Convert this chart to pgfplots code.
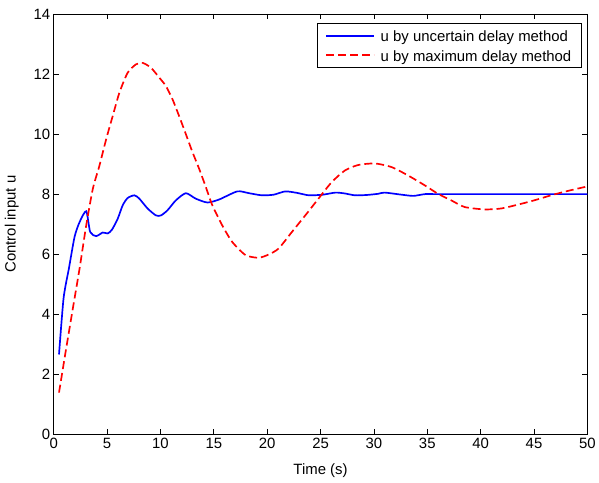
\documentclass[border=0pt]{standalone}
\usepackage{fontspec}
\setmainfont{Liberation Sans}
\usepackage{pgfplots}
\pgfplotsset{compat=1.18}
\newcommand{\ff}{\fontsize{15bp}{18bp}\selectfont}
\begin{document}
\begin{tikzpicture}
\begin{axis}[
  scale only axis,
  width=537bp, height=423bp,
  xmin=0, xmax=50, ymin=0, ymax=14,
  xtick={0,5,...,50}, ytick={0,2,...,14},
  tick align=inside,
  major tick length=5bp,
  axis line style={line width=0.8pt},
  every tick/.style={black, line width=0.6pt},
  /pgf/number format/assume math mode=true,
  tick label style={font=\ff},
  label style={font=\ff},
  xlabel={Time (s)},
  ylabel={Control input u},
  xlabel style={yshift=-9bp},
  ylabel style={yshift=8bp},
  legend cell align=left,
  legend style={at={(axis description cs:0.989,0.979)}, anchor=north east,
    font=\ff, draw=black, line width=0.6pt,
    inner xsep=8bp, inner ysep=3bp},
  legend image code/.code={\draw[#1] plot coordinates {(0bp,0bp) (24bp,0bp) (48bp,0bp)};},
]
\addplot[blue, line width=1.7pt, smooth, tension=0.4] coordinates {
(0.5,2.66) (0.93,4.54) (1.43,5.53) (1.96,6.58) (2.43,7.07) (3.05,7.43)
(3.42,6.74) (3.98,6.6) (4.6,6.72) (5.07,6.69) (5.47,6.82) (6.0,7.18)
(6.47,7.63) (6.93,7.87) (7.56,7.96) (8.02,7.85) (8.8,7.52) (9.58,7.29)
(10.05,7.29) (10.66,7.46) (11.44,7.79) (12.38,8.03) (13.3,7.85) (14.4,7.72)
(15.5,7.82) (17.2,8.09) (18.3,8.03) (19.5,7.96) (20.6,7.98) (21.7,8.09)
(22.8,8.04) (23.9,7.96) (25.2,7.98) (26.4,8.05) (27.3,8.02) (28.2,7.96)
(29.3,7.97) (30.4,8.01) (31.0,8.05) (32.6,7.98) (33.7,7.94) (34.8,8.0)
(36,8.0) (50,8.0)
};
\addlegendentry{\rule[-7bp]{0pt}{21bp}\hspace{4bp}u by uncertain delay method\hspace{12bp}}
\addplot[red, line width=1.7pt, dash pattern=on 8bp off 4bp, smooth, tension=0.4] coordinates {
(0.5,1.39) (1.18,2.88) (1.8,4.2) (2.43,5.53) (3.05,6.96) (3.67,8.18)
(4.29,8.95) (4.92,9.83) (5.53,10.6) (6.16,11.38) (6.93,12.04) (7.71,12.32)
(8.33,12.37) (9.11,12.21) (9.89,11.88) (10.51,11.6) (11.13,11.16) (11.75,10.6)
(12.38,10.0) (13.0,9.4) (13.62,8.85) (14.24,8.25) (14.86,7.63) (15.79,6.96)
(16.72,6.41) (17.97,5.97) (19.2,5.88) (20.15,5.99) (21.08,6.19) (22.32,6.74)
(23.57,7.29) (24.81,7.85) (26.05,8.4) (27.3,8.79) (28.54,8.97) (30.1,9.02)
(31.65,8.9) (33.2,8.62) (34.77,8.29) (36.0,8.01) (37.25,7.79) (38.5,7.57)
(40.36,7.49) (41.9,7.52) (43.5,7.65) (45.0,7.79) (46.6,7.96) (48.1,8.1)
(49.8,8.24) (50,8.25)
};
\addlegendentry{\rule[-7bp]{0pt}{21bp}\hspace{4bp}u by maximum delay method\hspace{12bp}}
\end{axis}
\useasboundingbox (-54bp,-48bp) rectangle (545bp,437bp);
\end{tikzpicture}
\end{document}
